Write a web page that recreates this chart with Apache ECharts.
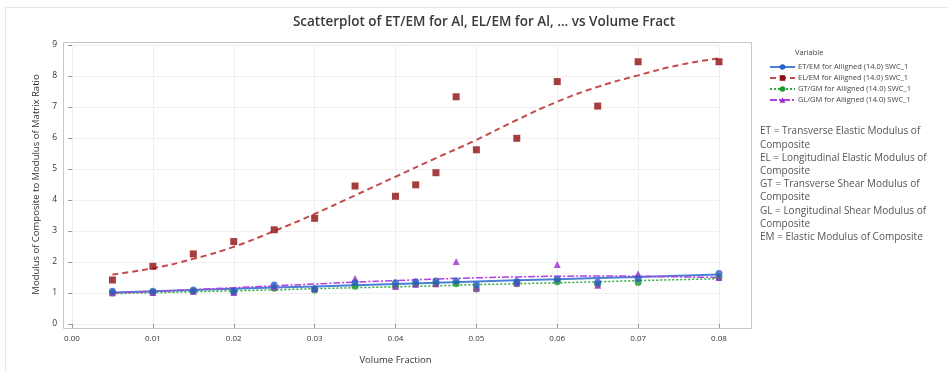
<!DOCTYPE html>
<html>
<head>
<meta charset="utf-8">
<script src="https://cdn.jsdelivr.net/npm/echarts@6/dist/echarts.min.js"></script>
<style>
    html, body { margin: 0; padding: 0; background: #fff; }
    #chart { width: 948px; height: 371px; }
</style>
</head>
<body>
<div id="chart"></div>
<script>
// measured points
var volFrac = [0.005, 0.01, 0.015, 0.02, 0.025, 0.03, 0.035, 0.04, 0.0425, 0.045, 0.0475, 0.05, 0.055, 0.06, 0.065, 0.07, 0.08];
var etEm = [1.06, 1.06, 1.10, 1.06, 1.26, 1.14, 1.33, 1.33, 1.36, 1.39, 1.39, 1.27, 1.37, 1.44, 1.35, 1.47, 1.63];
var elEm = [1.42, 1.86, 2.26, 2.66, 3.04, 3.41, 4.45, 4.12, 4.49, 4.88, 7.33, 5.62, 5.99, 7.82, 7.03, 8.46, 8.46];
var gtGm = [1.00, 1.02, 1.05, 1.03, 1.15, 1.10, 1.22, 1.22, 1.28, 1.30, 1.30, 1.13, 1.30, 1.36, 1.28, 1.34, 1.50];
var glGm = [1.01, 1.02, 1.06, 1.02, 1.20, 1.14, 1.47, 1.22, 1.28, 1.30, 2.02, 1.16, 1.32, 1.92, 1.25, 1.62, 1.50];

// fitted lines
var fitX = [0.005, 0.01, 0.015, 0.02, 0.025, 0.03, 0.035, 0.04, 0.045, 0.05, 0.055, 0.06, 0.065, 0.07, 0.075, 0.08];
var etFit = [1.02, 1.06, 1.10, 1.14, 1.18, 1.21, 1.25, 1.29, 1.33, 1.37, 1.41, 1.44, 1.48, 1.52, 1.56, 1.60];
var elFit = [1.60, 1.80, 2.10, 2.49, 3.00, 3.55, 4.15, 4.75, 5.35, 5.94, 6.58, 7.17, 7.65, 8.02, 8.35, 8.57];
var gtFit = [0.98, 1.01, 1.04, 1.07, 1.10, 1.14, 1.17, 1.20, 1.23, 1.27, 1.30, 1.33, 1.36, 1.40, 1.43, 1.46];
var glFit = [1.00, 1.05, 1.11, 1.17, 1.23, 1.29, 1.35, 1.40, 1.45, 1.49, 1.52, 1.54, 1.55, 1.54, 1.52, 1.50];

var xTicks = ['0.00', '0.01', '0.02', '0.03', '0.04', '0.05', '0.06', '0.07', '0.08'];
var yTicks = ['0', '1', '2', '3', '4', '5', '6', '7', '8', '9'];

var names = [
    'ET/EM for Alligned (14.0) SWC_1',
    'EL/EM for Alligned (14.0) SWC_1',
    'GT/GM for Alligned (14.0) SWC_1',
    'GL/GM for Alligned (14.0) SWC_1'
];
var notes = 'ET = Transverse Elastic Modulus of\nComposite\nEL = Longitudinal Elastic Modulus of\nComposite\nGT = Transverse Shear Modulus of\nComposite\nGL = Longitudinal Shear Modulus of\nComposite\nEM = Elastic Modulus of Composite';

function pairs(xs, ys) {
    return xs.map(function (x, i) { return [x, ys[i]]; });
}

var FONT = '"Open Sans", "Noto Sans", sans-serif';

var option = {
    animation: false,
    backgroundColor: '#fff',
    title: {
        text: 'Scatterplot of ET/EM for Al, EL/EM for Al, ... vs Volume Fract',
        left: 479,
        textAlign: 'center',
        top: 10,
        textStyle: { fontFamily: FONT, fontSize: 13.5, fontWeight: 600, color: '#3a3a3a' }
    },
    grid: { left: 72, right: 229, top: 45, bottom: 47 },
    legend: {
        orient: 'vertical',
        left: 764,
        top: 58,
        itemWidth: 25,
        itemHeight: 7,
        itemGap: 3,
        textStyle: { fontFamily: FONT, fontSize: 7.5, color: '#444', padding: [0, 0, 0, -2] },
        data: names
    },
    xAxis: {
        type: 'value',
        min: 0,
        max: 0.08,
        interval: 0.01,
        offset: 4,
        name: 'Volume Fraction',
        nameLocation: 'middle',
        nameGap: 27,
        nameTextStyle: { fontFamily: FONT, fontSize: 9.5, color: '#333' },
        axisLine: { show: false },
        axisTick: { show: true, length: 4, lineStyle: { color: '#999' } },
        axisLabel: {
            fontFamily: FONT, fontSize: 8, color: '#333', margin: 7,
            formatter: function (v) { return xTicks[Math.round(v * 100)]; }
        },
        splitLine: { show: true, lineStyle: { color: '#efefef' } }
    },
    yAxis: {
        type: 'value',
        min: 0,
        max: 9,
        interval: 1,
        offset: 9,
        name: 'Modulus of Composite to Modulus of Matrix Ratio',
        nameLocation: 'middle',
        nameGap: 22,
        nameTextStyle: { fontFamily: FONT, fontSize: 9.5, color: '#333' },
        axisLine: { show: false },
        axisTick: { show: true, length: 4, lineStyle: { color: '#999' } },
        axisLabel: {
            fontFamily: FONT, fontSize: 8.5, color: '#333', margin: 6,
            formatter: function (v) { return yTicks[Math.round(v)]; }
        },
        splitLine: { show: true, lineStyle: { color: '#efefef' } }
    },
    graphic: [
        {
            type: 'rect',
            shape: { x: 5.5, y: 7.5, width: 948, height: 370 },
            style: { fill: 'none', stroke: '#e6e6e6', lineWidth: 1 },
            silent: true
        },
        {
            type: 'rect',
            shape: { x: 63.5, y: 42.5, width: 688, height: 286 },
            style: { fill: 'none', stroke: '#c8c8c8', lineWidth: 1 },
            silent: true
        },
        {
            type: 'text',
            left: 795,
            top: 49,
            style: { text: 'Variable', font: '7.5px ' + FONT, fill: '#444' }
        },
        {
            type: 'text',
            left: 760,
            top: 125,
            style: { text: notes, font: '10px ' + FONT, fill: '#555', lineHeight: 13.2 }
        }
    ],
    series: [
        {
            name: names[0], type: 'line', data: pairs(fitX, etFit),
            symbol: 'circle', symbolSize: 6, showSymbol: false,
            itemStyle: { color: '#2a62c4' },
            lineStyle: { color: '#4a80d8', width: 2, type: 'solid' },
            z: 3
        },
        {
            name: names[1], type: 'line', data: pairs(fitX, elFit), smooth: true,
            symbol: 'rect', symbolSize: 6, showSymbol: false,
            itemStyle: { color: '#8e0f0f' },
            lineStyle: { color: '#c44a4a', width: 2, type: [6, 4] },
            z: 3
        },
        {
            name: names[2], type: 'line', data: pairs(fitX, gtFit),
            symbol: 'circle', symbolSize: 6, showSymbol: false,
            itemStyle: { color: '#1e9a2a' },
            lineStyle: { color: '#2aa83a', width: 1.5, type: [2, 2] },
            z: 3
        },
        {
            name: names[3], type: 'line', data: pairs(fitX, glFit), smooth: true,
            symbol: 'triangle', symbolSize: 6, showSymbol: false,
            itemStyle: { color: '#9a2bd0' },
            lineStyle: { color: '#b040e0', width: 1.5, type: [7, 2, 2, 2] },
            z: 3
        },
        {
            name: names[0], type: 'scatter', data: pairs(volFrac, etEm),
            symbol: 'circle', symbolSize: 7,
            itemStyle: { color: '#2a5cc0' }, z: 5
        },
        {
            name: names[1], type: 'scatter', data: pairs(volFrac, elEm),
            symbol: 'rect', symbolSize: 7,
            itemStyle: { color: '#8e0f0f' }, z: 5
        },
        {
            name: names[2], type: 'scatter', data: pairs(volFrac, gtGm),
            symbol: 'circle', symbolSize: 7,
            itemStyle: { color: '#1e9a2a' }, z: 4
        },
        {
            name: names[3], type: 'scatter', data: pairs(volFrac, glGm),
            symbol: 'triangle', symbolSize: 7,
            itemStyle: { color: '#9a2bd0' }, z: 4
        }
    ]
};

var chart = echarts.init(document.getElementById('chart'));
chart.setOption(option);
</script>
</body>
</html>
